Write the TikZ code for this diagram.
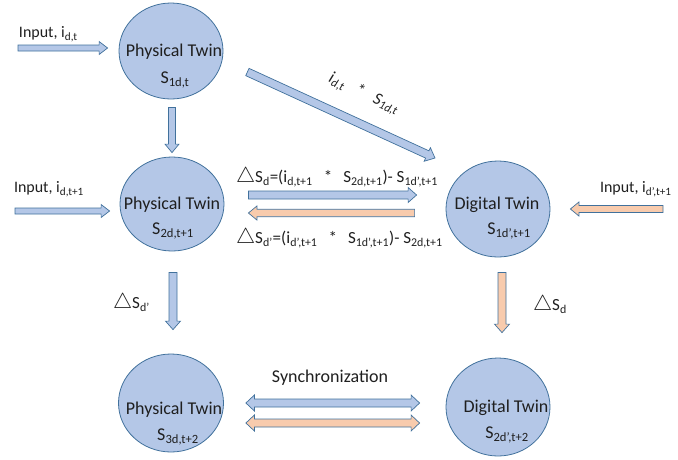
\documentclass[tikz,border=0pt]{standalone}
\usepackage{fontspec}
\setmainfont{Carlito}
\usetikzlibrary{calc,shapes.geometric}
\definecolor{cfill}{HTML}{B4C7E7}
\definecolor{cline}{HTML}{41719C}
\definecolor{ofill}{HTML}{F8CBAD}
\definecolor{txt}{HTML}{1F1F1F}
\newcommand\sbs[1]{\textsubscript{#1}}
\newcommand\tri{\raisebox{0.5pt}{\scalebox{1.25}{$\triangle$}}}
\newcommand\gap{\hspace{0.65em}}
% single block arrow: from, to, fill, shaft half width, head half width
\newcommand\barr[5]{%
\path[arrowbox, fill=#3] let \p1=(#1), \p2=(#2), \n1={atan2(\y2-\y1,\x2-\x1)}, \n2={veclen(\x2-\x1,\y2-\y1)} in
 {[shift={(\p1)}, rotate=\n1] (0,#4) -- ({\n2-8.5},#4) -- ({\n2-8.5},#5) -- (\n2,0) -- ({\n2-8.5},-#5) -- ({\n2-8.5},-#4) -- (0,-#4) -- cycle};}
% double block arrow
\newcommand\dbarr[5]{%
\path[arrowbox, fill=#3] let \p1=(#1), \p2=(#2), \n1={atan2(\y2-\y1,\x2-\x1)}, \n2={veclen(\x2-\x1,\y2-\y1)} in
 {[shift={(\p1)}, rotate=\n1] (0,0) -- (8.5,#5) -- (8.5,#4) -- ({\n2-8.5},#4) -- ({\n2-8.5},#5) -- (\n2,0) -- ({\n2-8.5},-#5) -- ({\n2-8.5},-#4) -- (8.5,-#4) -- (8.5,-#5) -- cycle};}
\begin{document}
\begin{tikzpicture}[x=1pt,y=1pt,
  font=\fontsize{18}{21}\selectfont, text=txt,
  twin/.style={ellipse, draw=cline, fill=cfill, line width=0.8pt, inner sep=0pt, minimum width=104pt, minimum height=96pt},
  arrowbox/.style={draw=cline, line width=0.7pt, line join=miter},
  lbl/.style={inner sep=0pt, outer sep=0pt},
  small/.style={font=\fontsize{16}{19}\selectfont},
  mid/.style={font=\fontsize{17}{20}\selectfont}]
\useasboundingbox (0,0) rectangle (678,-459);

% twins
\node[twin] (P1) at (171,-51) {};
\node[twin, minimum height=94pt] (P2) at (172,-204) {};
\node[twin] (D1) at (498,-209) {};
\node[twin, minimum width=105pt, minimum height=98pt] (P3) at (171,-403) {};
\node[twin, minimum height=98pt] (D2) at (498,-407) {};

\node[lbl] (P1t) at ($(P1)+(3,-1)$) {Physical Twin};
\node[lbl] (P1s) at ($(P1)+(4,-29)$) {S\sbs{1d,t}};
\node[lbl] (P2t) at ($(P2)+(0,-1)$) {Physical Twin};
\node[lbl] (P2s) at ($(P2)+(1,-27)$) {S\sbs{2d,t+1}};
\node[lbl] (D1t) at ($(D1)+(-1,4)$) {Digital Twin};
\node[lbl] (D1s) at ($(D1)+(11,-22)$) {S\sbs{1d’,t+1}};
\node[lbl] (P3t) at ($(P3)+(3,-7)$) {Physical Twin};
\node[lbl] (P3s) at ($(P3)+(7,-34)$) {S\sbs{3d,t+2}};
\node[lbl] (D2t) at ($(D2)+(8,-1)$) {Digital Twin};
\node[lbl] (D2s) at ($(D2)+(9,-28)$) {S\sbs{2d’,t+2}};

% connector end points
\coordinate (in1s) at (18,-48);
\coordinate (in1e) at ($(P1.west)+(-11,3)$);
\coordinate (in2s) at (15,-211);
\coordinate (in2e) at ($(P2.west)+(-10,-7)$);
\coordinate (in3s) at (663,-209);
\coordinate (in3e) at ($(D1.east)+(20,0)$);
\coordinate (d1s) at ($(P1.south)+(1,-8)$);
\coordinate (d1e) at ($(P2.north)+(0,4)$);
\coordinate (dgs) at ($(P1.east)+(24,-21)$);
\coordinate (dge) at ($(D1)+(-63,51)$);
\coordinate (rs) at ($(P2.east)+(24,9)$);
\coordinate (re) at ($(D1.west)+(-29,14)$);
\coordinate (ls) at ($(D1.west)+(-31,-4)$);
\coordinate (le) at ($(P2.east)+(24,-9)$);
\coordinate (d2s) at ($(P2.south)+(1,-21)$);
\coordinate (d2e) at ($(P3.north)+(2,24)$);
\coordinate (d3s) at ($(D1.south)+(4,-15)$);
\coordinate (d3e) at ($(D2.north)+(4,25)$);
\coordinate (sbs) at ($(P3.east)+(22,0)$);
\coordinate (sbe) at ($(D2.west)+(-26,4)$);
\coordinate (sos) at ($(P3.east)+(22,-20)$);
\coordinate (soe) at ($(D2.west)+(-26,-16)$);

% arrows
\barr{in1s}{in1e}{cfill}{3}{6.5}
\barr{in2s}{in2e}{cfill}{3}{6.5}
\barr{in3s}{in3e}{ofill}{3.5}{7}
\barr{d1s}{d1e}{cfill}{3.5}{7}
\barr{dgs}{dge}{cfill}{4}{7.5}
\barr{rs}{re}{cfill}{4}{7.5}
\barr{ls}{le}{ofill}{3.7}{7}
\barr{d2s}{d2e}{cfill}{4}{7.5}
\barr{d3s}{d3e}{ofill}{4}{7.5}
\dbarr{sbs}{sbe}{cfill}{4}{8}
\dbarr{sos}{soe}{ofill}{4}{8}

% labels
\node[lbl, small, anchor=west] (lin1) at (19,-34) {Input, i\sbs{d,t}};
\node[lbl, small, anchor=west] (lin2) at (14,-189) {Input, i\sbs{d,t+1}};
\node[lbl, small, anchor=west] (lin3) at (600,-189) {Input, i\sbs{d’,t+1}};
\node[lbl, mid, rotate=-24.5] (ldg) at (364,-94) {\itshape i\sbs{d,t}\ \ \ *\ \ \ S\sbs{1d,t}};
\node[lbl, mid, anchor=west] (lr) at (236,-177) {\tri S\sbs{d}=(i\sbs{d,t+1}\gap*\gap S\sbs{2d,t+1})- S\sbs{1d’,t+1}};
\node[lbl, mid, anchor=west] (ll) at (236,-238) {\tri S\sbs{d’}=(i\sbs{d’,t+1}\gap*\gap S\sbs{1d’,t+1})- S\sbs{2d,t+1}};
\node[lbl, mid, anchor=west] (ld2) at (113,-303) {\tri S\sbs{d’}};
\node[lbl, mid, anchor=west] (ld3) at (533,-305) {\tri S\sbs{d}};
\node[lbl] (lsync) at (330,-378) {Synchronization};
\end{tikzpicture}
\end{document}
